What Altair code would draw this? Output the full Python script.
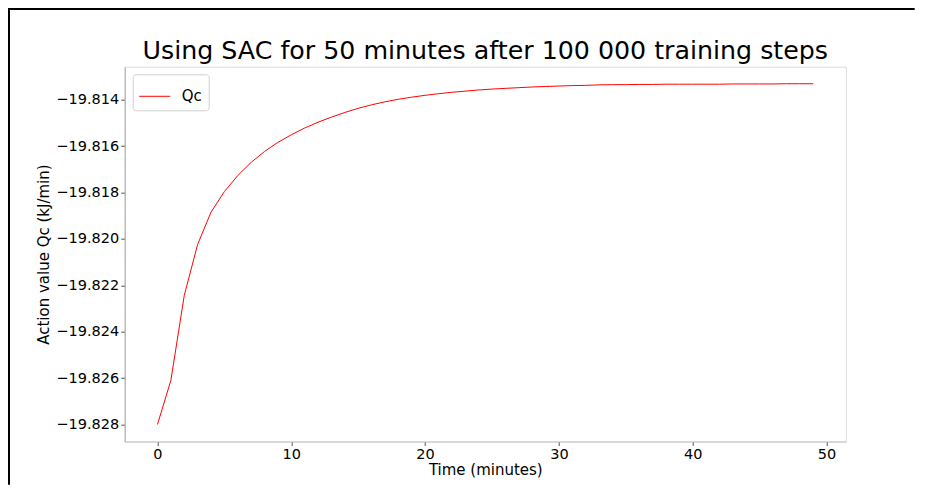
import altair as alt
import pandas as pd

# Time in minutes (0..49)
time_min = list(range(50))
# Qc action value
qc_values = [
    -19.82800, -19.82610, -19.82244, -19.82024, -19.81885,
    -19.81796, -19.81727, -19.81670, -19.81623, -19.81584,
    -19.81551, -19.81522, -19.81497, -19.81475, -19.81455,
    -19.81437, -19.81422, -19.81409, -19.81398, -19.81389,
    -19.81381, -19.81374, -19.81368, -19.81363, -19.81358,
    -19.81354, -19.81351, -19.81348, -19.81345, -19.81343,
    -19.81341, -19.81339, -19.81338, -19.81336, -19.81335,
    -19.81335, -19.81334, -19.81334, -19.81333, -19.81333,
    -19.81333, -19.81333, -19.81333, -19.81332, -19.81332,
    -19.81332, -19.81332, -19.81331, -19.81331, -19.81331,
]
series_name = ["Qc"] * len(time_min)
x_ticks = [0, 10, 20, 30, 40, 50]
y_ticks = [-19.828, -19.826, -19.824, -19.822, -19.820, -19.818, -19.816, -19.814]

df = pd.DataFrame({"t": time_min, "qc": qc_values, "series": series_name})

FONT = "DejaVu Sans"

line = alt.Chart(df).mark_line(strokeWidth=1.0).encode(
    x=alt.X("t:Q",
            scale=alt.Scale(domain=[-2.45, 51.45], nice=False, zero=False),
            axis=alt.Axis(values=x_ticks, title="Time (minutes)", grid=False,
                          domainColor="#c4c4c4", tickColor="#555555", tickSize=4,
                          labelPadding=2, titlePadding=2, labelFontSize=14.5,
                          titleFontSize=15, labelColor="black", titleColor="black",
                          titleFontWeight="normal", labelFont=FONT, titleFont=FONT)),
    y=alt.Y("qc:Q",
            scale=alt.Scale(domain=[-19.828734, -19.812576], nice=False, zero=False),
            axis=alt.Axis(values=y_ticks, format=".3f", title="Action value Qc (kJ/min)",
                          grid=False, domainColor="#a8a8a8", tickColor="#555555",
                          tickSize=4, labelPadding=2, titlePadding=4,
                          labelFontSize=14.5, titleFontSize=15, labelColor="black",
                          titleColor="black", titleFontWeight="normal",
                          labelFont=FONT, titleFont=FONT)),
    color=alt.Color("series:N",
                    scale=alt.Scale(domain=["Qc"], range=["#ff0000"]),
                    legend=alt.Legend(title=None, orient="none", legendX=8, legendY=7.6,
                                      symbolType="stroke", symbolSize=961,
                                      symbolStrokeWidth=1.0, labelFontSize=15,
                                      labelFont=FONT, labelColor="black",
                                      labelOffset=11, padding=6, fillColor="white",
                                      strokeColor="#d0d0d0", cornerRadius=3)),
)

frame_df = pd.DataFrame({"k": [0]})
top_line = alt.Chart(frame_df).mark_rule(color="black", strokeWidth=2).encode(
    x=alt.value(-116.7), x2=alt.value(790), y=alt.value(-57.7)
)
left_line = alt.Chart(frame_df).mark_rule(color="black", strokeWidth=2).encode(
    x=alt.value(-115.7), y=alt.value(-58.7), y2=alt.value(418)
)

chart = alt.layer(line, top_line, left_line).properties(
    width=721.2,
    height=374.8,
    title=alt.TitleParams("Using SAC for 50 minutes after 100 000 training steps",
                          fontSize=25.3, font=FONT, fontWeight="normal", color="black",
                          anchor="middle", frame="group", baseline="alphabetic",
                          offset=-77),
    padding={"left": 116.7, "top": 58.7, "right": 72, "bottom": 43},
    autosize=alt.AutoSizeParams(type="none"),
).configure_view(stroke="#e5e5e5", strokeWidth=1).configure(background="white")

chart.save("out.html", embed_options={"renderer": "svg", "actions": False})
